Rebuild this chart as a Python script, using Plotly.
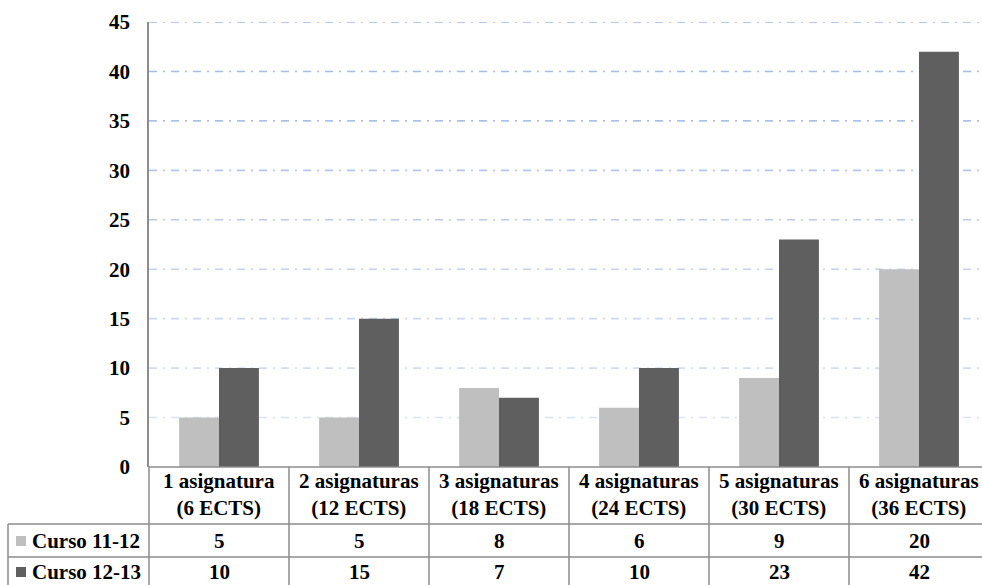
import plotly.graph_objects as go

# Data
categorias_l1 = ["1 asignatura", "2 asignaturas", "3 asignaturas",
                 "4 asignaturas", "5 asignaturas", "6 asignaturas"]
categorias_l2 = ["(6 ECTS)", "(12 ECTS)", "(18 ECTS)",
                 "(24 ECTS)", "(30 ECTS)", "(36 ECTS)"]
curso_11_12 = [5, 5, 8, 6, 9, 20]
curso_12_13 = [10, 15, 7, 10, 23, 42]
series_nombres = ["Curso 11-12", "Curso 12-13"]
y_ticks = list(range(0, 50, 5))

# Styling
W, H = 982, 585
ML, MR, MT, MB = 149, 0, 22, 118
PLOT_W = W - ML - MR
PLOT_H = H - MT - MB
FONT = dict(family="Liberation Serif, Times New Roman, serif",
            size=21, color="#000000", weight="bold")
COL_LIGHT = "#BFBFBF"
COL_DARK = "#5F5F5F"
BORDER = "#8C8C8C"


def py(ypix):
    """Pixel row (from top of page) -> paper y coordinate."""
    return (H - MB - ypix) / PLOT_H


def px(xpix):
    """Pixel column (from left of page) -> paper x coordinate."""
    return (xpix - ML) / PLOT_W


x_idx = list(range(len(categorias_l1)))

fig = go.Figure()
fig.add_trace(go.Bar(x=x_idx, y=curso_11_12, name=series_nombres[0],
                     marker=dict(color=COL_LIGHT, line=dict(width=0))))
fig.add_trace(go.Bar(x=x_idx, y=curso_12_13, name=series_nombres[1],
                     marker=dict(color=COL_DARK, line=dict(width=0))))

shapes = []

# dash-dot gridlines, fading toward the bottom
def mix(c1, c2, t):
    a = [int(c1[i:i + 2], 16) for i in (1, 3, 5)]
    b = [int(c2[i:i + 2], 16) for i in (1, 3, 5)]
    return "#" + "".join(f"{round(a[k] + (b[k] - a[k]) * t):02X}" for k in range(3))

top_c, bot_c = "#9DB6E5", "#DAE3F4"
for v in y_ticks[1:]:
    t = (v - 5) / 40
    shapes.append(dict(type="line", xref="paper", yref="y", x0=0, x1=1, y0=v, y1=v,
                       line=dict(color=mix(bot_c, top_c, t), width=1.6,
                                 dash="8px,6px,2px,6px"),
                       layer="below"))

# data table grid
table_left = px(8)
row_tops = [467, 524, 557]
table_bottom = 592
shapes.append(dict(type="line", xref="paper", yref="paper", x0=0, x1=1,
                   y0=py(row_tops[0]), y1=py(row_tops[0]),
                   line=dict(color=BORDER, width=1.5)))
for r in row_tops[1:]:
    shapes.append(dict(type="line", xref="paper", yref="paper", x0=table_left, x1=1,
                       y0=py(r), y1=py(r), line=dict(color=BORDER, width=1.5)))
shapes.append(dict(type="line", xref="paper", yref="paper", x0=0, x1=0,
                   y0=py(row_tops[0]), y1=py(table_bottom),
                   line=dict(color=BORDER, width=1.5)))
shapes.append(dict(type="line", xref="paper", yref="paper", x0=table_left, x1=table_left,
                   y0=py(row_tops[1]), y1=py(table_bottom),
                   line=dict(color=BORDER, width=1.5)))
for k in x_idx[1:]:
    shapes.append(dict(type="line", xref="x", yref="paper", x0=k - 0.5, x1=k - 0.5,
                       y0=py(row_tops[0]), y1=py(table_bottom),
                       line=dict(color=BORDER, width=1.5)))

# legend keys in the table
row_centers = [541, 572]
for rc, col in zip(row_centers, [COL_LIGHT, COL_DARK]):
    shapes.append(dict(type="rect", xref="paper", yref="paper",
                       x0=px(16), x1=px(26), y0=py(rc - 5), y1=py(rc + 5),
                       fillcolor=col, line=dict(width=0)))

annotations = []
for i in x_idx:
    annotations.append(dict(x=i, y=py(494), xref="x", yref="paper",
                            text=categorias_l1[i] + "<br>" + categorias_l2[i],
                            showarrow=False, font=FONT, xanchor="center",
                            yanchor="middle", align="center"))
    for rc, serie in zip(row_centers, [curso_11_12, curso_12_13]):
        annotations.append(dict(x=i, y=py(rc), xref="x", yref="paper", text=str(serie[i]),
                                showarrow=False, font=FONT, xanchor="center",
                                yanchor="middle"))
for rc, nombre in zip(row_centers, series_nombres):
    annotations.append(dict(x=px(30), y=py(rc), xref="paper", yref="paper", text=nombre,
                            showarrow=False, font=FONT, xanchor="left", yanchor="middle"))

fig.update_layout(
    width=W, height=H,
    margin=dict(l=ML, r=MR, t=MT, b=MB, pad=0),
    paper_bgcolor="white", plot_bgcolor="white",
    showlegend=False,
    barmode="group", bargap=0.43, bargroupgap=0,
    font=FONT,
    shapes=shapes,
    annotations=annotations,
    xaxis=dict(range=[-0.5, 5.45], showticklabels=False, showgrid=False,
               zeroline=False, showline=False, ticks="", fixedrange=True),
    yaxis=dict(range=[0, 45], tickvals=y_ticks, showgrid=False, zeroline=False,
               showline=True, linecolor=BORDER, linewidth=1.5, ticks="",
               ticklabelstandoff=13, tickfont=FONT, fixedrange=True),
)

fig.write_html("out.html")
